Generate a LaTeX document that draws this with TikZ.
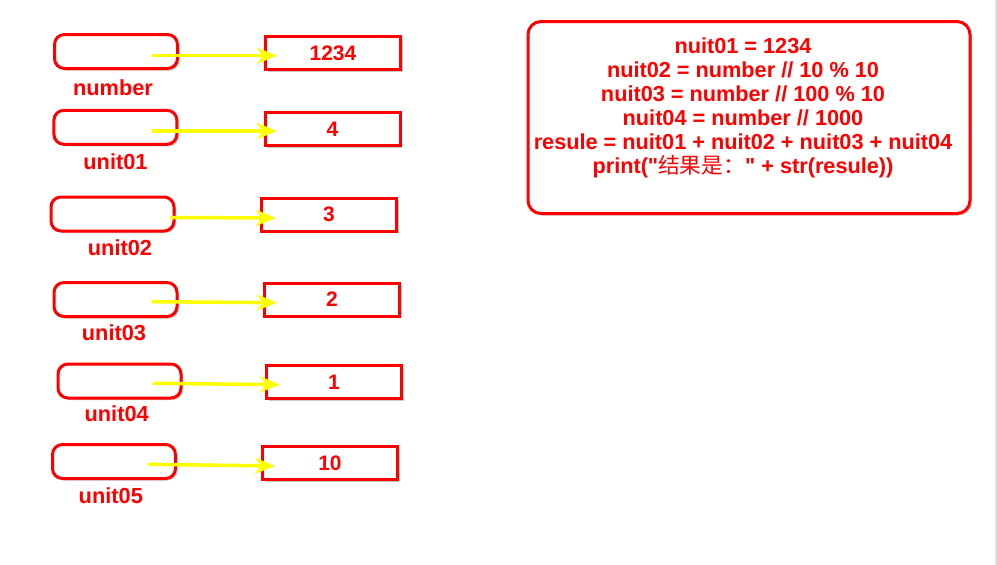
\documentclass[tikz,border=0pt]{standalone}
\usepackage{fontspec}
\newfontfamily\lsans{Liberation Sans}
\newfontfamily\cjk{Noto Sans CJK SC}
\usetikzlibrary{arrows.meta,shadows}
\definecolor{hred}{RGB}{255,0,0}
\definecolor{hyel}{RGB}{255,255,0}
\tikzset{
  boxshadow/.style={drop shadow={shadow xshift=2pt,shadow yshift=-2pt,opacity=.3,fill=black!70}},
  varbox/.style={draw=hred,line width=3pt,rounded corners=10pt,fill=white,minimum width=123pt,minimum height=34pt,inner sep=0pt,boxshadow},
  valbox/.style={draw=hred,line width=3pt,fill=white,minimum width=135pt,minimum height=33pt,inner sep=0pt,boxshadow,font=\lsans\fontsize{21}{24}\selectfont\bfseries,text=hred},
  codebox/.style={draw=hred,line width=3pt,rounded corners=13pt,fill=white,minimum width=442pt,minimum height=192pt,inner sep=0pt,boxshadow},
  vlabel/.style={font=\lsans\fontsize{21.8}{24}\selectfont\bfseries,text=hred,inner sep=0pt},
  codetext/.style={font=\lsans\fontsize{21.7}{24.1}\selectfont\bfseries,text=hred,align=center,inner sep=0pt},
  arr/.style={hyel,line width=3.5pt,-{Stealth[length=20pt,width=16pt,inset=6pt]}}
}
\begin{document}
\begin{tikzpicture}[x=1pt,y=-1pt]
\useasboundingbox (0,0) rectangle (997,565);
\fill[white] (0,0) rectangle (997,565);
\draw[black!12,line width=1.5pt] (996,0) -- (996,565);
% row 1
\node[varbox] (v1) at (116,51.5) {};
\node[vlabel] (l1) at (113,87.5) {number};
\node[valbox] (b1) at (333,53) {1234};
\draw[arr] ([xshift=35.7pt,yshift=-4.2pt]v1.center) -- ([xshift=-56pt,yshift=-2.7pt]b1.center);
% row 2
\node[varbox] (v2) at (115.4,127.3) {};
\node[vlabel] (l2) at (115.5,161.7) {unit01};
\node[valbox] (b2) at (332.5,129) {4};
\draw[arr] ([xshift=36.3pt,yshift=-3.7pt]v2.center) -- ([xshift=-55.5pt,yshift=-2pt]b2.center);
% row 3
\node[varbox] (v3) at (112.5,214) {};
\node[vlabel] (l3) at (120,248) {unit02};
\node[valbox] (b3) at (329,214.7) {3};
\draw[arr] ([xshift=57.5pt,yshift=-3.5pt]v3.center) -- ([xshift=-53pt,yshift=-3.3pt]b3.center);
% row 4
\node[varbox] (v4) at (115.5,299.5) {};
\node[vlabel] (l4) at (114,332.5) {unit03};
\node[valbox] (b4) at (332,299.5) {2};
\draw[arr] ([xshift=36.2pt,yshift=-2.2pt]v4.center) -- ([xshift=-55pt,yshift=-3.2pt]b4.center);
% row 5
\node[varbox] (v5) at (119.5,381) {};
\node[vlabel] (l5) at (116.7,414) {unit04};
\node[valbox] (b5) at (334,382) {1};
\draw[arr] ([xshift=33.5pt,yshift=-2.3pt]v5.center) -- ([xshift=-54pt,yshift=-2.7pt]b5.center);
% row 6
\node[varbox] (v6) at (114,461.5) {};
\node[vlabel] (l6) at (110.8,496) {unit05};
\node[valbox] (b6) at (330,463) {10};
\draw[arr] ([xshift=34pt,yshift=-2.8pt]v6.center) -- ([xshift=-55pt,yshift=-3pt]b6.center);
% code box
\node[codebox] (c) at (749,117.5) {};
\node[codetext] (t) at (743,107.8) {nuit01 = 1234\\
nuit02 = number // 10 \% 10\\
nuit03 = number // 100 \% 10\\
nuit04 = number // 1000\\
resule = nuit01 + nuit02 + nuit03 + nuit04\\
print("{\cjk\mdseries 结果是：}" + str(resule))};
\end{tikzpicture}
\end{document}
